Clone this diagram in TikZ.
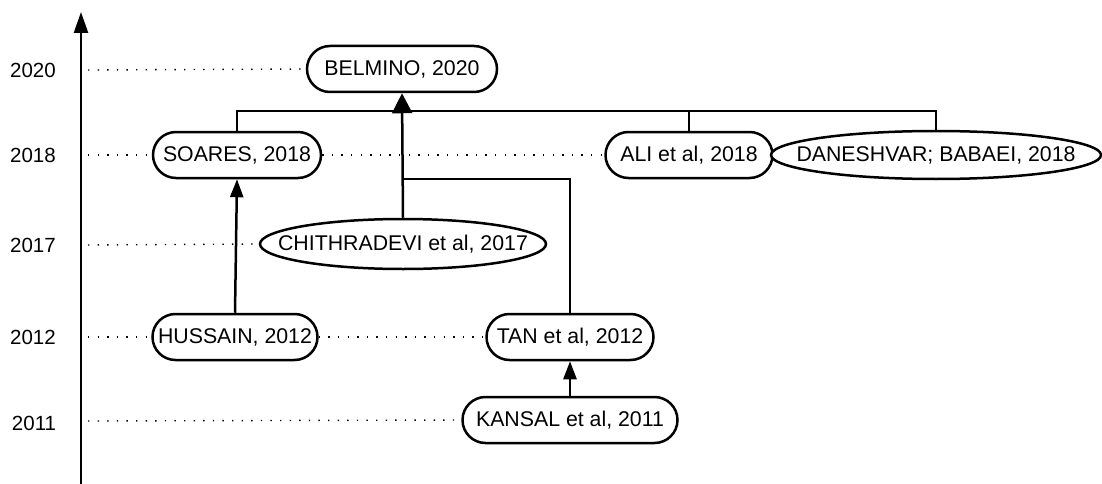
\documentclass[tikz,border=0pt]{standalone}
\usepackage{fontspec}
\setmainfont{Liberation Sans}
\usetikzlibrary{shapes.misc,shapes.geometric,arrows.meta}
\begin{document}
\begin{tikzpicture}[x=1pt,y=-1pt,
  pill/.style={rounded rectangle,draw,line width=2.5pt,inner sep=0pt,minimum height=46pt,fill=white},
  oval/.style={ellipse,draw,line width=2.5pt,inner sep=0pt,fill=white},
  lbl/.style={font=\fontsize{21.3}{25}\selectfont},
  year/.style={font=\fontsize{20.5}{24}\selectfont,inner sep=0pt},
  dot/.style={line width=1.4pt,dash pattern=on 1.4pt off 8.2pt},
  link/.style={line width=2.5pt},
  arr/.style={line width=2.5pt,-{Triangle[width=13pt,length=18pt]}},
  bigarr/.style={line width=2.5pt,-{Triangle[width=20pt,length=20pt]}}
]
\useasboundingbox (0,0) rectangle (1102,484);
% axis
\coordinate (ab) at (81,484);
\coordinate (at) at (81,12);
\draw[line width=2.5pt,-{Triangle[width=14pt,length=21pt]}] (ab) -- (at);
% year labels
\node[year] (y20) at (33,70) {2020};
\node[year] (y18) at (33,155) {2018};
\node[year] (y17) at (33,245) {2017};
\node[year] (y12) at (33,337) {2012};
\node[year] (y11) at (34,423) {2011};
% nodes
\node[pill,lbl,minimum width=190pt] (belmino) at (402,69) {BELMINO, 2020};
\node[pill,lbl,minimum width=168pt] (soares) at (237,155) {SOARES, 2018};
\node[pill,lbl,minimum width=167pt] (ali) at (689,155) {ALI et al, 2018};
\node[oval,lbl,minimum width=330pt,minimum height=48pt] (dan) at (936,155) {\makebox[0pt]{DANESHVAR; BABAEI, 2018}};
\node[oval,lbl,minimum width=286pt,minimum height=50pt] (chith) at (403,244) {\makebox[0pt]{CHITHRADEVI et al, 2017}};
\node[pill,lbl,minimum width=165pt] (hussain) at (235,337) {HUSSAIN, 2012};
\node[pill,lbl,minimum width=167pt] (tan) at (570,337) {TAN et al, 2012};
\node[pill,lbl,minimum width=215pt] (kansal) at (570,420) {KANSAL et al, 2011};
% dotted guides
\coordinate (d20) at (88,70);
\coordinate (d18) at (88,155);
\coordinate (d17) at (88,245);
\coordinate (d12) at (88,337);
\coordinate (d11) at (88,421);
\draw[dot] (d20) -- (belmino.west);
\draw[dot] (d18) -- (soares.west);
\draw[dot] (soares.east) -- (ali.west);
\draw[dot] (d17) -- (chith.west);
\draw[dot] (d12) -- (hussain.west);
\draw[dot] (hussain.east) -- (tan.west);
\draw[dot] (d11) -- (kansal.west);
% connectors
\coordinate (bus) at (403,111);
\coordinate (tj) at (403,179);
\draw[link] (soares.north) |- (bus);
\draw[link] (ali.north) |- (bus);
\draw[link] (dan.north) |- (bus);
\draw[link] (tan.north) |- (tj);
\draw[bigarr] (chith.north) -- (belmino.south);
\draw[arr] (hussain.north) -- (soares.south);
\draw[arr] (kansal.north) -- (tan.south);
\end{tikzpicture}
\end{document}
